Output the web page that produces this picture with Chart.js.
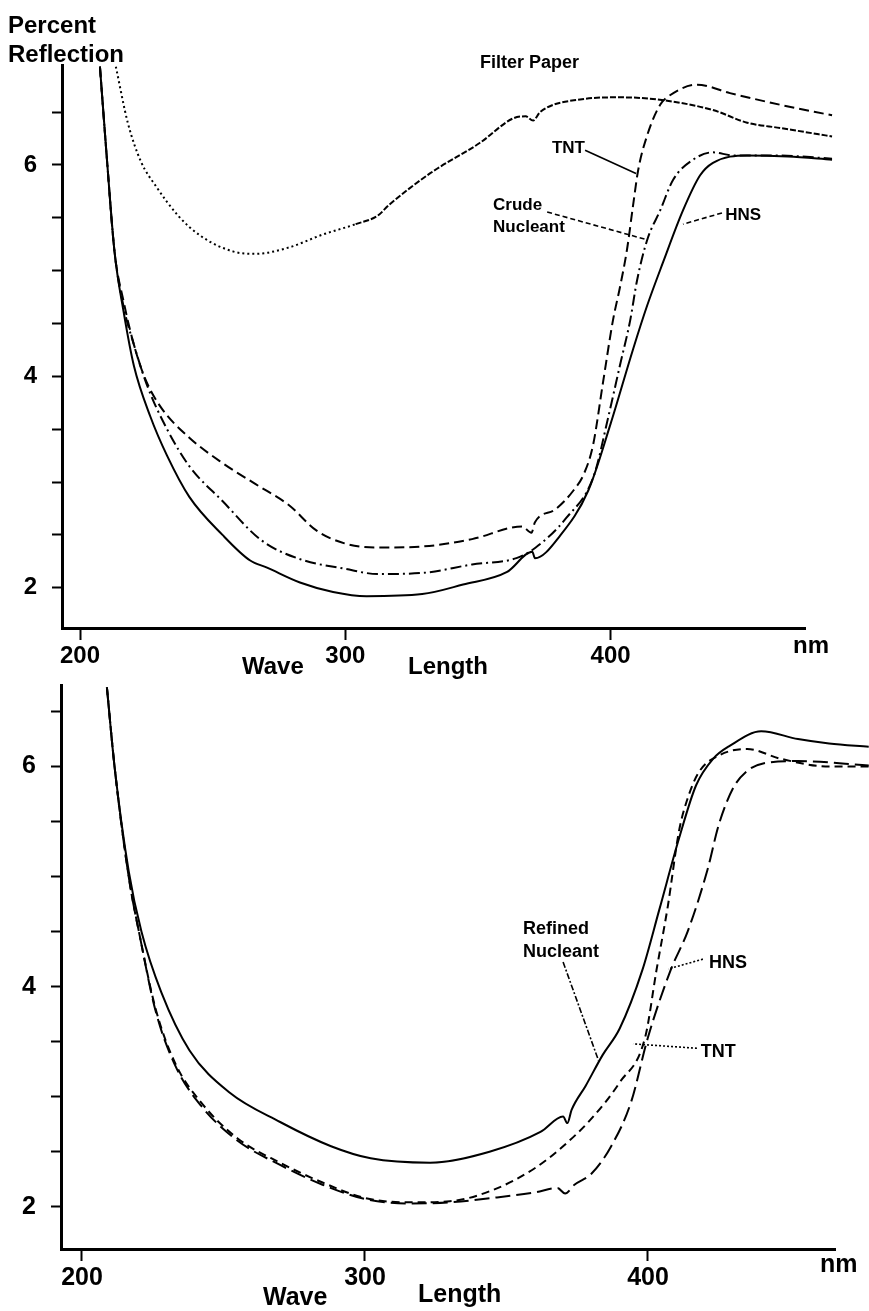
<!DOCTYPE html>
<html>
<head>
<meta charset="utf-8">
<title>Percent Reflection vs Wave Length</title>
<script src="https://cdn.jsdelivr.net/npm/chart.js@4.4.0/dist/chart.umd.min.js"></script>
<style>
  html, body { margin: 0; padding: 0; background: #fff; }
  #wrap { position: relative; width: 869px; height: 1311px; }
  canvas { position: absolute; left: 0; }
  #topChart { top: 0; }
  #bottomChart { top: 655px; }
</style>
</head>
<body>
<div id="wrap">
  <canvas id="topChart" width="869" height="685"></canvas>
  <canvas id="bottomChart" width="869" height="656"></canvas>
</div>
<script>
// ---- data (x = wave length in nm, y = percent reflection) ----
const xTickValues = [200, 300, 400];
const yTickValues = [2, 2.5, 3, 3.5, 4, 4.5, 5, 5.5, 6, 6.5];
const yLabelled = [2, 4, 6];

// top panel
const topFilterNm = [213.5, 218, 223, 228.6, 237, 245.4, 257.9, 266.2, 278.8, 291.3, 303.9, 312.2, 316.4, 331.9, 350.8, 363.2, 368, 370.8, 373.4, 388.5, 403.6, 417.5, 438.6, 451.5, 463.9, 483.5];
const topFilterPct = [6.93, 6.4, 6.03, 5.8, 5.52, 5.33, 5.18, 5.16, 5.22, 5.34, 5.44, 5.52, 5.62, 5.92, 6.21, 6.44, 6.46, 6.42, 6.5, 6.62, 6.64, 6.62, 6.52, 6.4, 6.35, 6.27];

const topTntNm = [207.5, 210, 213, 216.5, 220.3, 224.5, 230.7, 241.2, 253.7, 266.2, 278.8, 289.2, 299.7, 312.2, 329, 347.8, 366.6, 370.2, 371.5, 379.1, 386, 390, 393.4, 397.2, 400.9, 403.6, 406.2, 408.5, 410.4, 413.8, 418.7, 422.4, 432.6, 445, 463.9, 483.5];
const topTntPct = [6.93, 6.1, 5.18, 4.7, 4.3, 3.98, 3.7, 3.42, 3.18, 2.98, 2.78, 2.54, 2.42, 2.38, 2.39, 2.46, 2.58, 2.52, 2.62, 2.74, 2.92, 3.08, 3.35, 3.95, 4.53, 4.85, 5.2, 5.62, 5.95, 6.28, 6.57, 6.66, 6.76, 6.68, 6.57, 6.47];

const topCrudeNm = [207.5, 210, 213, 216.5, 220.3, 225.5, 232.8, 241.2, 253.7, 268.3, 283, 299.7, 312.2, 329, 347.8, 364.5, 371.8, 383.3, 393.7, 399, 403.5, 407.4, 410, 413.8, 418.7, 423.6, 431.1, 438.6, 446.2, 462.7, 483.5];
const topCrudePct = [6.93, 6.1, 5.18, 4.65, 4.3, 3.9, 3.5, 3.15, 2.82, 2.45, 2.27, 2.18, 2.13, 2.14, 2.22, 2.28, 2.38, 2.66, 3.06, 3.6, 4.1, 4.53, 4.91, 5.29, 5.57, 5.86, 6.05, 6.12, 6.09, 6.09, 6.06];

const topHnsNm = [207.5, 210, 213, 216.5, 220.3, 226.5, 232.8, 241.2, 253.7, 264, 270.5, 282.9, 295.4, 308, 329, 344.4, 361, 370.5, 371.5, 381.2, 391.6, 400, 408.4, 413.8, 419.8, 427.3, 433.7, 438.6, 451.5, 466.9, 483.5];
const topHnsPct = [6.93, 6.1, 5.18, 4.6, 4.1, 3.62, 3.25, 2.86, 2.5, 2.26, 2.19, 2.05, 1.96, 1.92, 1.94, 2.03, 2.15, 2.34, 2.28, 2.5, 2.92, 3.55, 4.25, 4.67, 5.08, 5.57, 5.9, 6.02, 6.09, 6.08, 6.05];

// bottom panel
const botRefinedNm = [208.8, 211.5, 216.5, 221, 228, 238, 252, 270, 288, 302, 323, 344, 362, 370, 371.5, 373, 378, 384, 390, 398, 404, 411, 417, 423, 429, 440, 453, 464, 478];
const botRefinedPct = [6.72, 6.0, 5.05, 4.5, 3.95, 3.42, 3.04, 2.77, 2.55, 2.44, 2.4, 2.5, 2.68, 2.82, 2.76, 2.88, 3.1, 3.38, 3.62, 4.15, 4.7, 5.35, 5.83, 6.07, 6.19, 6.32, 6.25, 6.21, 6.18];

const botTntNm = [208.8, 211.5, 216.5, 220.5, 226, 233, 242, 255, 270, 285, 300, 315, 330, 345, 360, 370, 380, 390, 399, 403, 407, 411, 414, 418, 425, 435, 447, 464, 478];
const botTntPct = [6.72, 6.0, 5.0, 4.45, 3.8, 3.3, 2.95, 2.62, 2.4, 2.22, 2.08, 2.04, 2.05, 2.15, 2.35, 2.55, 2.8, 3.13, 3.54, 4.15, 4.73, 5.42, 5.71, 5.95, 6.1, 6.16, 6.07, 6.0, 6.0];

const botHnsNm = [208.8, 211.5, 216.5, 220.5, 226, 233, 242, 255, 270, 285, 300, 315, 330, 345, 360, 368, 370.7, 374, 380, 387, 394, 400, 408, 414, 421, 425, 430, 435, 441, 453, 478];
const botHnsPct = [6.72, 6.0, 5.0, 4.45, 3.78, 3.28, 2.92, 2.6, 2.38, 2.2, 2.07, 2.03, 2.04, 2.08, 2.13, 2.17, 2.12, 2.2, 2.3, 2.55, 2.95, 3.54, 4.15, 4.5, 5.06, 5.47, 5.8, 5.96, 6.03, 6.05, 6.01];

// ---- helpers ----
const FONT = '"Liberation Sans", Arial, sans-serif';
const pts = (xs, ys) => xs.map((x, i) => ({ x: x, y: ys[i] }));

function line(data, dash, extra) {
  return Object.assign({
    data: data,
    borderColor: '#000',
    borderWidth: 2,
    borderDash: dash,
    pointRadius: 0,
    fill: false,
    clip: false,
    cubicInterpolationMode: 'monotone'
  }, extra || {});
}

// labels, leader lines and free captions
const notesPlugin = {
  id: 'notes',
  afterDraw(chart, args, opts) {
    const ctx = chart.ctx;
    const xs = chart.scales.x, ys = chart.scales.y;
    const px = (p) => [xs.getPixelForValue(p[0]), ys.getPixelForValue(p[1])];
    ctx.save();
    ctx.strokeStyle = '#000';
    ctx.fillStyle = '#000';
    (opts.leaders || []).forEach(function (l) {
      const a = px(l.from), b = px(l.to);
      ctx.setLineDash(l.dash || []);
      ctx.lineWidth = 1.6;
      ctx.beginPath();
      ctx.moveTo(a[0], a[1]);
      ctx.lineTo(b[0], b[1]);
      ctx.stroke();
    });
    ctx.setLineDash([]);
    ctx.textBaseline = 'alphabetic';
    ctx.textAlign = 'left';
    (opts.labels || []).forEach(function (t) {
      const p = px(t.at);
      ctx.font = t.font;
      ctx.fillText(t.text, p[0], p[1]);
    });
    (opts.captions || []).forEach(function (c) {
      ctx.font = c.font;
      ctx.fillText(c.text, c.x, c.y);
    });
    ctx.restore();
  }
};

function scales(cfg) {
  return {
    x: {
      type: 'linear',
      min: cfg.xMin,
      max: cfg.xMax,
      afterBuildTicks: (s) => { s.ticks = xTickValues.map(v => ({ value: v })); },
      afterFit: (s) => { s.height = cfg.xHeight; },
      grid: { drawOnChartArea: false, drawTicks: true, tickLength: 12, tickWidth: 2, tickColor: '#000' },
      border: { display: true, color: '#000', width: 3 },
      ticks: {
        color: '#000', autoSkip: false, maxRotation: 0, padding: cfg.xPad,
        font: { family: FONT, size: cfg.tickSize, weight: 'bold' },
        callback: (v) => String(v)
      }
    },
    y: {
      type: 'linear',
      min: cfg.yMin,
      max: cfg.yMax,
      afterBuildTicks: (s) => { s.ticks = yTickValues.map(v => ({ value: v })); },
      afterFit: (s) => { s.width = cfg.yWidth; },
      grid: { drawOnChartArea: false, drawTicks: true, tickLength: 10, tickWidth: 2, tickColor: '#000' },
      border: { display: true, color: '#000', width: 3 },
      ticks: {
        color: '#000', padding: cfg.yPad,
        font: { family: FONT, size: cfg.tickSize, weight: 'bold' },
        callback: (v) => (yLabelled.indexOf(v) >= 0 ? String(v) : '')
      }
    }
  };
}

const baseOptions = {
  responsive: false,
  animation: false,
  devicePixelRatio: 1,
  events: []
};

// ---- top panel ----
new Chart(document.getElementById('topChart'), {
  type: 'line',
  data: {
    datasets: [
      line(pts(topFilterNm, topFilterPct), [2, 3], {
        segment: { borderDash: (c) => (c.p0.parsed.x < 300 ? [2, 3] : [6, 2]) }
      }),
      line(pts(topTntNm, topTntPct), [10, 5]),
      line(pts(topCrudeNm, topCrudePct), [11, 4, 2, 4]),
      line(pts(topHnsNm, topHnsPct), [])
    ]
  },
  options: Object.assign({}, baseOptions, {
    layout: { padding: { top: 65, right: 64, left: 0, bottom: 0 } },
    scales: scales({ xMin: 193.2, xMax: 473.3, yMin: 1.619, yMax: 6.946, xHeight: 57, yWidth: 62, xPad: 2, yPad: 15, tickSize: 24 }),
    plugins: {
      legend: { display: false },
      tooltip: { enabled: false },
      notes: {
        leaders: [
          { from: [390.4, 6.14], to: [409.6, 5.92], dash: [] },
          { from: [376.1, 5.555], to: [414.1, 5.29], dash: [5, 3] },
          { from: [442.0, 5.546], to: [427.3, 5.44], dash: [5, 3] }
        ],
        labels: [
          { text: 'Filter Paper', at: [350.8, 6.918], font: 'bold 18px ' + FONT },
          { text: 'TNT', at: [377.9, 6.114], font: 'bold 17px ' + FONT },
          { text: 'Crude', at: [355.7, 5.574], font: 'bold 17px ' + FONT },
          { text: 'Nucleant', at: [355.7, 5.366], font: 'bold 17px ' + FONT },
          { text: 'HNS', at: [443.2, 5.48], font: 'bold 17px ' + FONT }
        ],
        captions: [
          { text: 'Percent', x: 8, y: 33, font: 'bold 24px ' + FONT },
          { text: 'Reflection', x: 8, y: 62, font: 'bold 24px ' + FONT },
          { text: 'Wave', x: 242, y: 674, font: 'bold 24px ' + FONT },
          { text: 'Length', x: 408, y: 674, font: 'bold 24px ' + FONT },
          { text: 'nm', x: 793, y: 653, font: 'bold 24px ' + FONT }
        ]
      }
    }
  }),
  plugins: [notesPlugin]
});

// ---- bottom panel ----
new Chart(document.getElementById('bottomChart'), {
  type: 'line',
  data: {
    datasets: [
      line(pts(botRefinedNm, botRefinedPct), []),
      line(pts(botTntNm, botTntPct), [8, 5]),
      line(pts(botHnsNm, botHnsPct), [15, 6])
    ]
  },
  options: Object.assign({}, baseOptions, {
    layout: { padding: { top: 20, right: 34, left: 0, bottom: 0 } },
    scales: scales({ xMin: 192.58, xMax: 466.08, yMin: 1.616, yMax: 6.741, xHeight: 62, yWidth: 61, xPad: 2, yPad: 15, tickSize: 25 }),
    plugins: {
      legend: { display: false },
      tooltip: { enabled: false },
      notes: {
        leaders: [
          { from: [370.0, 4.223], to: [382.5, 3.33], dash: [6, 2, 2, 2] },
          { from: [419.4, 4.25], to: [407.1, 4.16], dash: [2, 2] },
          { from: [417.3, 3.44], to: [394.7, 3.48], dash: [2, 2] }
        ],
        labels: [
          { text: 'Refined', at: [355.8, 4.482], font: 'bold 18px ' + FONT },
          { text: 'Nucleant', at: [355.8, 4.268], font: 'bold 18px ' + FONT },
          { text: 'HNS', at: [421.6, 4.17], font: 'bold 18px ' + FONT },
          { text: 'TNT', at: [418.6, 3.36], font: 'bold 18px ' + FONT }
        ],
        captions: [
          { text: 'Wave', x: 263, y: 650, font: 'bold 25px ' + FONT },
          { text: 'Length', x: 418, y: 647, font: 'bold 25px ' + FONT },
          { text: 'nm', x: 820, y: 617, font: 'bold 25px ' + FONT }
        ]
      }
    }
  }),
  plugins: [notesPlugin]
});
</script>
</body>
</html>
